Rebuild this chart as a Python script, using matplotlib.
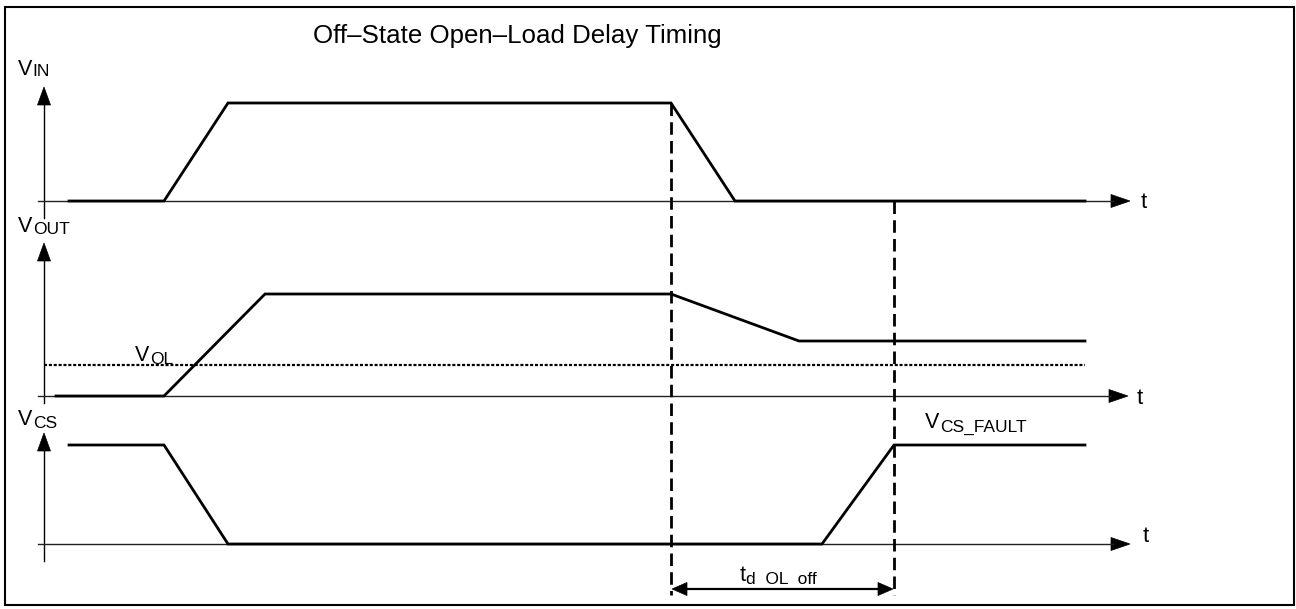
import matplotlib
matplotlib.use("Agg")
import matplotlib.pyplot as plt
from matplotlib.patches import Polygon, Rectangle

plt.rcParams['font.family'] = ['Liberation Sans', 'DejaVu Sans']
plt.rcParams['lines.scale_dashes'] = False

# ---------------- data (time in drawing units, level normalized per panel) ----
title = "Off\u2013State Open\u2013Load Delay Timing"

vin_time = [69, 164, 228, 671, 735, 1085]
vin_level = [0.0, 0.0, 0.98, 0.98, 0.0, 0.0]

vout_time = [56, 164, 265, 671, 799, 1085]
vout_level = [0.0, 0.0, 1.02, 1.02, 0.55, 0.55]
vol_level = 0.31
vol_span = [44, 1085]

vcs_time = [69, 164, 228, 822, 894, 1085]
vcs_level = [0.99, 0.99, 0.0, 0.0, 0.99, 0.99]

marker_t1 = 671   # VIN starts falling
marker_t2 = 894   # VCS reaches fault level

# (base, subscript) label texts
panel_labels = [("V", "IN"), ("V", "OUT"), ("V", "CS")]
vol_label = ("V", "OL")
fault_label = ("V", "CS_FAULT")
delay_label = ("t", "d  OL  off")
time_label = "t"

# ---------------- layout ----------------
W, H = 1296, 609
fig = plt.figure(figsize=(W / 100, H / 100), dpi=100)
ax = fig.add_axes([0, 0, 1, 1])
ax.set_xlim(0, W)
ax.set_ylim(H, 0)
ax.axis('off')

scale = 100.0
bases = [201, 396, 544]          # baselines of the three panels
tips = [87, 243, 433]            # tops of the vertical axes
bottoms = [218, 403, 561]
htips = [1130, 1128, 1130]
yaxis_x = 44
xaxis_start = 38

BASE_FS = 15.5
SUB_FS = 12.5
renderer = fig.canvas.get_renderer()


def py(panel, level):
    return bases[panel] - level * scale


def sub_text(x, y, pair, base_fs=BASE_FS, sub_fs=SUB_FS, drop=3):
    base, sub = pair
    t = ax.text(x, y, base, fontsize=base_fs, ha='left', va='baseline')
    bb = t.get_window_extent(renderer)
    xr = ax.transData.inverted().transform((bb.x1, bb.y0))[0]
    ax.text(xr + 0.5, y + drop, sub, fontsize=sub_fs, ha='left', va='baseline')


# border
ax.add_patch(Rectangle((5, 7), 1289, 598, fill=False, lw=1.5, ec='black'))

# title
ax.text(313, 43, title, fontsize=18.6, ha='left', va='baseline')

# axes
for i in range(3):
    b = bases[i]
    ax.plot([yaxis_x, yaxis_x], [bottoms[i], tips[i] + 17], color='black', lw=1.0)
    ax.add_patch(Polygon([[yaxis_x, tips[i]], [yaxis_x - 6.5, tips[i] + 18],
                          [yaxis_x + 6.5, tips[i] + 18]], closed=True,
                         fc='black', ec='black', lw=0.5))
    ax.plot([xaxis_start, htips[i] - 17], [b, b], color='#222222', lw=1.0)
    ax.add_patch(Polygon([[htips[i], b], [htips[i] - 19, b - 6.5],
                          [htips[i] - 19, b + 6.5]], closed=True,
                         fc='black', ec='black', lw=0.5))

# axis labels
sub_text(18, 75, panel_labels[0], drop=1.5)
sub_text(18, 232, panel_labels[1], drop=2)
sub_text(18, 425, panel_labels[2], drop=3)
ax.text(1141, 202, time_label, fontsize=16, ha='left', va='center')
ax.text(1137, 399, time_label, fontsize=16, ha='left', va='center')
ax.text(1143, 537, time_label, fontsize=16, ha='left', va='center')

# signals
for k, (tt, lv) in enumerate([(vin_time, vin_level), (vout_time, vout_level),
                              (vcs_time, vcs_level)]):
    ax.plot(tt, [py(k, v) for v in lv], color='black', lw=2.0,
            solid_joinstyle='miter')

# VOL dotted threshold
ax.plot(vol_span, [py(1, vol_level)] * 2, color='black', lw=1.6,
        linestyle=(0, (2.2, 1.3)))
sub_text(135, 361, vol_label, drop=3)

# fault label
sub_text(925, 428, fault_label, drop=4)

# dashed markers
ax.plot([marker_t1, marker_t1], [py(0, vin_level[3]), 595], color='black',
        lw=2.0, linestyle=(0, (9, 4.5)))
ax.plot([marker_t2, marker_t2], [bases[0], 595], color='black',
        lw=2.0, linestyle=(0, (9, 4.5)))

# delay arrow
ya = 589
ax.plot([marker_t1 + 14, marker_t2 - 14], [ya, ya], color='black', lw=1.6)
ax.add_patch(Polygon([[marker_t1 + 1, ya], [marker_t1 + 16, ya - 6.5],
                      [marker_t1 + 16, ya + 6.5]], closed=True, fc='black', ec='black', lw=0.5))
ax.add_patch(Polygon([[marker_t2 - 1, ya], [marker_t2 - 16, ya - 6.5],
                      [marker_t2 - 16, ya + 6.5]], closed=True, fc='black', ec='black', lw=0.5))
sub_text(740, 581, delay_label, drop=3)

fig.savefig('out.png', dpi=100)
